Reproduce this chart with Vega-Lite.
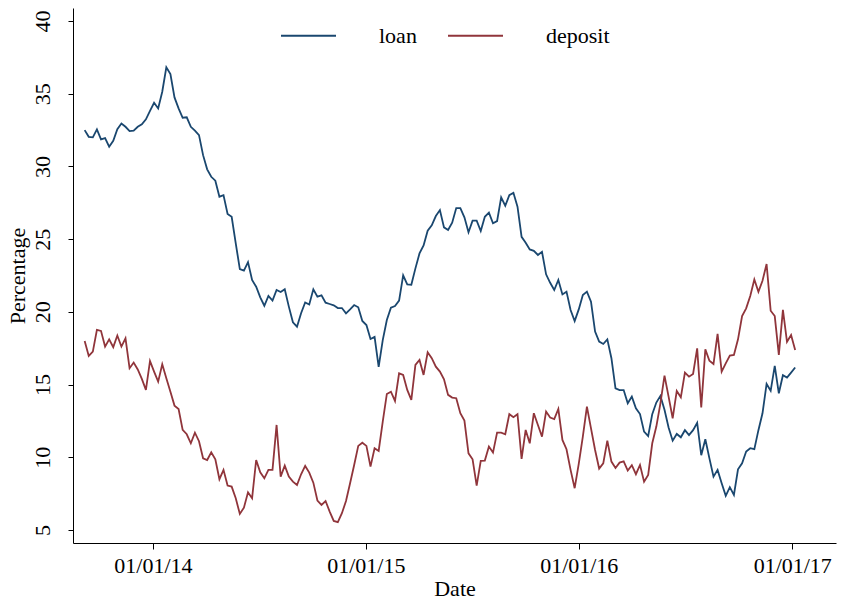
{
  "$schema": "https://vega.github.io/schema/vega-lite/v6.json",
  "width": 763,
  "height": 535,
  "autosize": "none",
  "padding": {"left": 73, "top": 8, "right": 5, "bottom": 59},
  "background": "white",
  "config": {
    "view": {"stroke": null},
    "font": "Liberation Serif",
    "axis": {
      "grid": false,
      "domainColor": "black",
      "domainWidth": 1,
      "tickColor": "black",
      "tickWidth": 1,
      "labelColor": "black",
      "titleColor": "black",
      "labelFont": "Liberation Serif",
      "titleFont": "Liberation Serif",
      "labelFontSize": 22,
      "titleFontSize": 22,
      "titleFontWeight": "normal"
    },
    "legend": {
      "labelFont": "Liberation Serif",
      "labelFontSize": 22,
      "labelColor": "black"
    }
  },
  "data": {
    "values": [
      {"date": "2013-09-06", "loan": 32.5, "deposit": 18.0},
      {"date": "2013-09-13", "loan": 32.04, "deposit": 16.97},
      {"date": "2013-09-20", "loan": 32.0, "deposit": 17.26},
      {"date": "2013-09-27", "loan": 32.55, "deposit": 18.76},
      {"date": "2013-10-04", "loan": 31.86, "deposit": 18.69},
      {"date": "2013-10-11", "loan": 31.95, "deposit": 17.61},
      {"date": "2013-10-18", "loan": 31.36, "deposit": 18.11},
      {"date": "2013-10-25", "loan": 31.77, "deposit": 17.57},
      {"date": "2013-11-01", "loan": 32.57, "deposit": 18.37},
      {"date": "2013-11-08", "loan": 32.96, "deposit": 17.61},
      {"date": "2013-11-15", "loan": 32.73, "deposit": 18.18},
      {"date": "2013-11-22", "loan": 32.43, "deposit": 16.12},
      {"date": "2013-11-29", "loan": 32.46, "deposit": 16.51},
      {"date": "2013-12-06", "loan": 32.73, "deposit": 16.04},
      {"date": "2013-12-13", "loan": 32.9, "deposit": 15.39},
      {"date": "2013-12-20", "loan": 33.24, "deposit": 14.63},
      {"date": "2013-12-27", "loan": 33.83, "deposit": 16.62},
      {"date": "2014-01-03", "loan": 34.38, "deposit": 15.89},
      {"date": "2014-01-10", "loan": 33.99, "deposit": 15.2},
      {"date": "2014-01-17", "loan": 35.14, "deposit": 16.4},
      {"date": "2014-01-24", "loan": 36.82, "deposit": 15.43},
      {"date": "2014-01-31", "loan": 36.35, "deposit": 14.51},
      {"date": "2014-02-07", "loan": 34.75, "deposit": 13.55},
      {"date": "2014-02-14", "loan": 34.0, "deposit": 13.32},
      {"date": "2014-02-21", "loan": 33.35, "deposit": 11.88},
      {"date": "2014-02-28", "loan": 33.38, "deposit": 11.58},
      {"date": "2014-03-07", "loan": 32.73, "deposit": 10.96},
      {"date": "2014-03-14", "loan": 32.46, "deposit": 11.69},
      {"date": "2014-03-21", "loan": 32.16, "deposit": 11.1},
      {"date": "2014-03-28", "loan": 30.78, "deposit": 9.93},
      {"date": "2014-04-04", "loan": 29.8, "deposit": 9.81},
      {"date": "2014-04-11", "loan": 29.29, "deposit": 10.34},
      {"date": "2014-04-18", "loan": 29.02, "deposit": 9.86},
      {"date": "2014-04-25", "loan": 27.92, "deposit": 8.49},
      {"date": "2014-05-02", "loan": 28.03, "deposit": 9.13},
      {"date": "2014-05-09", "loan": 26.73, "deposit": 8.05},
      {"date": "2014-05-16", "loan": 26.54, "deposit": 7.98},
      {"date": "2014-05-23", "loan": 24.71, "deposit": 7.18},
      {"date": "2014-05-30", "loan": 22.94, "deposit": 6.1},
      {"date": "2014-06-06", "loan": 22.83, "deposit": 6.53},
      {"date": "2014-06-13", "loan": 23.42, "deposit": 7.59},
      {"date": "2014-06-20", "loan": 22.19, "deposit": 7.18},
      {"date": "2014-06-27", "loan": 21.73, "deposit": 9.81},
      {"date": "2014-07-04", "loan": 21.0, "deposit": 8.96},
      {"date": "2014-07-11", "loan": 20.42, "deposit": 8.55},
      {"date": "2014-07-18", "loan": 21.09, "deposit": 9.13},
      {"date": "2014-07-25", "loan": 20.77, "deposit": 9.13},
      {"date": "2014-08-01", "loan": 21.5, "deposit": 12.22},
      {"date": "2014-08-08", "loan": 21.36, "deposit": 8.67},
      {"date": "2014-08-15", "loan": 21.55, "deposit": 9.42},
      {"date": "2014-08-22", "loan": 20.36, "deposit": 8.67},
      {"date": "2014-08-29", "loan": 19.28, "deposit": 8.32},
      {"date": "2014-09-05", "loan": 18.98, "deposit": 8.09},
      {"date": "2014-09-12", "loan": 19.9, "deposit": 8.83},
      {"date": "2014-09-19", "loan": 20.65, "deposit": 9.4},
      {"date": "2014-09-26", "loan": 20.51, "deposit": 8.94},
      {"date": "2014-10-03", "loan": 21.55, "deposit": 8.25},
      {"date": "2014-10-10", "loan": 21.04, "deposit": 7.02},
      {"date": "2014-10-17", "loan": 21.13, "deposit": 6.72},
      {"date": "2014-10-24", "loan": 20.63, "deposit": 6.99},
      {"date": "2014-10-31", "loan": 20.54, "deposit": 6.26},
      {"date": "2014-11-07", "loan": 20.45, "deposit": 5.62},
      {"date": "2014-11-14", "loan": 20.26, "deposit": 5.53},
      {"date": "2014-11-21", "loan": 20.26, "deposit": 6.15},
      {"date": "2014-11-28", "loan": 19.9, "deposit": 6.99},
      {"date": "2014-12-05", "loan": 20.17, "deposit": 8.21},
      {"date": "2014-12-12", "loan": 20.47, "deposit": 9.47},
      {"date": "2014-12-19", "loan": 20.31, "deposit": 10.78},
      {"date": "2014-12-26", "loan": 19.37, "deposit": 11.0},
      {"date": "2015-01-02", "loan": 19.09, "deposit": 10.78},
      {"date": "2015-01-09", "loan": 18.13, "deposit": 9.35},
      {"date": "2015-01-16", "loan": 18.28, "deposit": 10.62},
      {"date": "2015-01-23", "loan": 16.22, "deposit": 10.43},
      {"date": "2015-01-30", "loan": 18.06, "deposit": 12.45},
      {"date": "2015-02-06", "loan": 19.44, "deposit": 14.35},
      {"date": "2015-02-13", "loan": 20.29, "deposit": 14.51},
      {"date": "2015-02-20", "loan": 20.4, "deposit": 13.87},
      {"date": "2015-02-27", "loan": 20.77, "deposit": 15.77},
      {"date": "2015-03-06", "loan": 22.51, "deposit": 15.66},
      {"date": "2015-03-13", "loan": 21.89, "deposit": 14.63},
      {"date": "2015-03-20", "loan": 21.86, "deposit": 13.94},
      {"date": "2015-03-27", "loan": 22.99, "deposit": 16.35},
      {"date": "2015-04-03", "loan": 24.02, "deposit": 16.69},
      {"date": "2015-04-10", "loan": 24.57, "deposit": 15.66},
      {"date": "2015-04-17", "loan": 25.58, "deposit": 17.22},
      {"date": "2015-04-24", "loan": 25.95, "deposit": 16.81},
      {"date": "2015-05-01", "loan": 26.59, "deposit": 16.23},
      {"date": "2015-05-08", "loan": 27.0, "deposit": 15.89},
      {"date": "2015-05-15", "loan": 25.81, "deposit": 15.36},
      {"date": "2015-05-22", "loan": 25.63, "deposit": 14.29},
      {"date": "2015-05-29", "loan": 26.13, "deposit": 14.1},
      {"date": "2015-06-05", "loan": 27.14, "deposit": 14.06},
      {"date": "2015-06-12", "loan": 27.14, "deposit": 13.03},
      {"date": "2015-06-19", "loan": 26.5, "deposit": 12.52},
      {"date": "2015-06-26", "loan": 25.47, "deposit": 10.27},
      {"date": "2015-07-03", "loan": 26.27, "deposit": 9.86},
      {"date": "2015-07-10", "loan": 26.27, "deposit": 8.05},
      {"date": "2015-07-17", "loan": 25.56, "deposit": 9.75},
      {"date": "2015-07-24", "loan": 26.54, "deposit": 9.77},
      {"date": "2015-07-31", "loan": 26.82, "deposit": 10.73},
      {"date": "2015-08-07", "loan": 26.09, "deposit": 10.32},
      {"date": "2015-08-14", "loan": 26.24, "deposit": 11.69},
      {"date": "2015-08-21", "loan": 27.87, "deposit": 11.69},
      {"date": "2015-08-28", "loan": 27.3, "deposit": 11.58},
      {"date": "2015-09-04", "loan": 28.03, "deposit": 12.96},
      {"date": "2015-09-11", "loan": 28.19, "deposit": 12.75},
      {"date": "2015-09-18", "loan": 27.23, "deposit": 12.96},
      {"date": "2015-09-25", "loan": 25.16, "deposit": 9.88},
      {"date": "2015-10-02", "loan": 24.75, "deposit": 11.88},
      {"date": "2015-10-09", "loan": 24.29, "deposit": 10.96},
      {"date": "2015-10-16", "loan": 24.2, "deposit": 13.03},
      {"date": "2015-10-23", "loan": 23.91, "deposit": 12.22},
      {"date": "2015-10-30", "loan": 24.13, "deposit": 11.42},
      {"date": "2015-11-06", "loan": 22.58, "deposit": 13.14},
      {"date": "2015-11-13", "loan": 22.0, "deposit": 12.73},
      {"date": "2015-11-20", "loan": 21.5, "deposit": 12.63},
      {"date": "2015-11-27", "loan": 22.19, "deposit": 13.32},
      {"date": "2015-12-04", "loan": 21.2, "deposit": 11.19},
      {"date": "2015-12-11", "loan": 21.39, "deposit": 10.55},
      {"date": "2015-12-18", "loan": 20.13, "deposit": 9.13},
      {"date": "2015-12-25", "loan": 19.37, "deposit": 7.87},
      {"date": "2016-01-01", "loan": 20.17, "deposit": 9.54},
      {"date": "2016-01-08", "loan": 21.15, "deposit": 11.42},
      {"date": "2016-01-15", "loan": 21.39, "deposit": 13.48},
      {"date": "2016-01-22", "loan": 20.7, "deposit": 11.99},
      {"date": "2016-01-29", "loan": 18.64, "deposit": 10.5},
      {"date": "2016-02-05", "loan": 17.95, "deposit": 9.22},
      {"date": "2016-02-12", "loan": 17.79, "deposit": 9.58},
      {"date": "2016-02-19", "loan": 18.11, "deposit": 11.14},
      {"date": "2016-02-26", "loan": 16.81, "deposit": 9.7},
      {"date": "2016-03-04", "loan": 14.74, "deposit": 9.26},
      {"date": "2016-03-11", "loan": 14.62, "deposit": 9.63},
      {"date": "2016-03-18", "loan": 14.62, "deposit": 9.72},
      {"date": "2016-03-25", "loan": 13.71, "deposit": 9.08},
      {"date": "2016-04-01", "loan": 14.17, "deposit": 9.45},
      {"date": "2016-04-08", "loan": 13.37, "deposit": 8.83},
      {"date": "2016-04-15", "loan": 12.97, "deposit": 9.47},
      {"date": "2016-04-22", "loan": 11.76, "deposit": 8.32},
      {"date": "2016-04-29", "loan": 11.46, "deposit": 8.78},
      {"date": "2016-05-06", "loan": 12.96, "deposit": 10.96},
      {"date": "2016-05-13", "loan": 13.76, "deposit": 12.11},
      {"date": "2016-05-20", "loan": 14.22, "deposit": 13.71},
      {"date": "2016-05-27", "loan": 13.26, "deposit": 15.61},
      {"date": "2016-06-03", "loan": 12.04, "deposit": 14.17},
      {"date": "2016-06-10", "loan": 11.14, "deposit": 12.68},
      {"date": "2016-06-17", "loan": 11.6, "deposit": 14.56},
      {"date": "2016-06-24", "loan": 11.37, "deposit": 14.12},
      {"date": "2016-07-01", "loan": 11.86, "deposit": 15.82},
      {"date": "2016-07-08", "loan": 11.52, "deposit": 15.54},
      {"date": "2016-07-15", "loan": 11.86, "deposit": 15.73},
      {"date": "2016-07-22", "loan": 12.37, "deposit": 17.49},
      {"date": "2016-07-29", "loan": 10.14, "deposit": 13.43},
      {"date": "2016-08-05", "loan": 11.24, "deposit": 17.42},
      {"date": "2016-08-12", "loan": 9.92, "deposit": 16.64},
      {"date": "2016-08-19", "loan": 8.66, "deposit": 16.41},
      {"date": "2016-08-26", "loan": 9.13, "deposit": 18.48},
      {"date": "2016-09-02", "loan": 8.21, "deposit": 15.89},
      {"date": "2016-09-09", "loan": 7.34, "deposit": 16.46},
      {"date": "2016-09-16", "loan": 7.94, "deposit": 16.99},
      {"date": "2016-09-23", "loan": 7.41, "deposit": 17.04},
      {"date": "2016-09-30", "loan": 9.17, "deposit": 18.11},
      {"date": "2016-10-07", "loan": 9.58, "deposit": 19.71},
      {"date": "2016-10-14", "loan": 10.39, "deposit": 20.24},
      {"date": "2016-10-21", "loan": 10.62, "deposit": 21.09},
      {"date": "2016-10-28", "loan": 10.55, "deposit": 22.23},
      {"date": "2016-11-04", "loan": 11.86, "deposit": 21.38},
      {"date": "2016-11-11", "loan": 13.02, "deposit": 22.14},
      {"date": "2016-11-18", "loan": 15.04, "deposit": 23.29},
      {"date": "2016-11-25", "loan": 14.57, "deposit": 20.08},
      {"date": "2016-12-02", "loan": 16.28, "deposit": 19.71},
      {"date": "2016-12-09", "loan": 14.4, "deposit": 17.04},
      {"date": "2016-12-16", "loan": 15.64, "deposit": 20.13},
      {"date": "2016-12-23", "loan": 15.48, "deposit": 17.94},
      {"date": "2016-12-30", "loan": 15.82, "deposit": 18.4},
      {"date": "2017-01-06", "loan": 16.17, "deposit": 17.37}
    ]
  },
  "transform": [
    {"fold": ["loan", "deposit"], "as": ["series", "value"]}
  ],
  "mark": {"type": "line", "strokeWidth": 1.8, "interpolate": "linear"},
  "encoding": {
    "x": {
      "field": "date",
      "type": "temporal",
      "title": "Date",
      "scale": {
        "type": "utc",
        "domain": [
          {"year": 2013, "month": 8, "date": 17, "utc": true},
          {"year": 2017, "month": 3, "date": 17, "utc": true}
        ],
        "nice": false
      },
      "axis": {
        "values": [
          {"year": 2014, "month": 1, "date": 1, "utc": true},
          {"year": 2015, "month": 1, "date": 1, "utc": true},
          {"year": 2016, "month": 1, "date": 1, "utc": true},
          {"year": 2017, "month": 1, "date": 1, "utc": true}
        ],
        "format": "%m/%d/%y",
        "tickSize": 6,
        "labelPadding": 6,
        "titlePadding": 2,
        "labelFlush": false,
        "labelOverlap": false
      }
    },
    "y": {
      "field": "value",
      "type": "quantitative",
      "title": "Percentage",
      "scale": {"domain": [4.1, 40.9], "nice": false, "zero": false},
      "axis": {
        "values": [5, 10, 15, 20, 25, 30, 35, 40],
        "tickSize": 5,
        "labelAngle": -90,
        "labelAlign": "center",
        "labelBaseline": "bottom",
        "labelPadding": 14,
        "titlePadding": 2,
        "labelFlush": false,
        "labelOverlap": false
      }
    },
    "color": {
      "field": "series",
      "type": "nominal",
      "scale": {"domain": ["loan", "deposit"], "range": ["#1a476f", "#90353b"]},
      "legend": {
        "title": null,
        "orient": "none",
        "direction": "horizontal",
        "legendX": 207,
        "legendY": -1,
        "symbolType": "stroke",
        "symbolSize": 3025,
        "symbolStrokeWidth": 1.8,
        "labelOffset": 42,
        "columnPadding": 27,
        "padding": 0
      }
    }
  }
}
